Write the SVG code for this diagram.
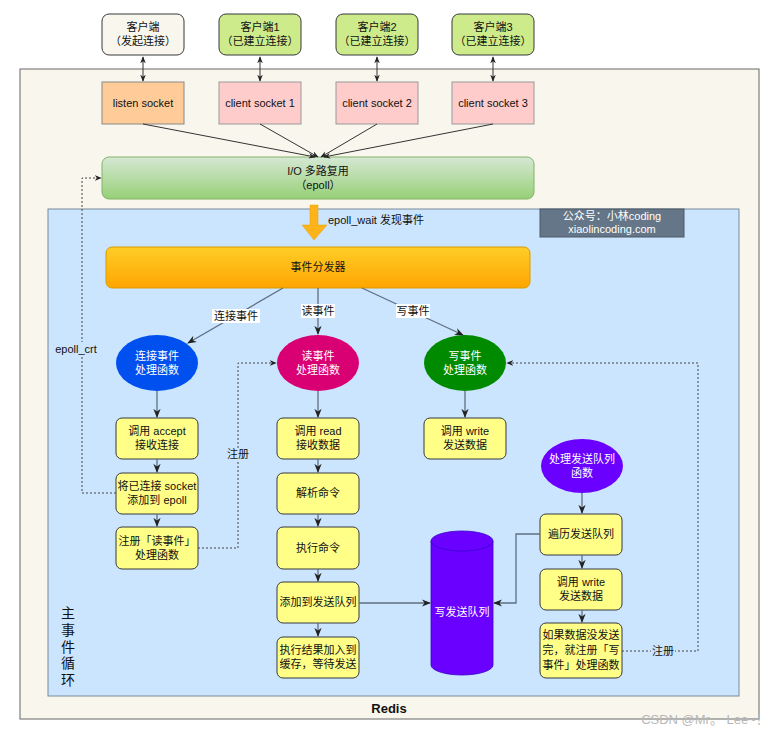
<svg xmlns="http://www.w3.org/2000/svg" width="779" height="732" viewBox="0 0 779 732">
<defs>
<linearGradient id="gGreen" x1="0" y1="0" x2="0" y2="1"><stop offset="0" stop-color="#d5e8d4"/><stop offset="1" stop-color="#97d077"/></linearGradient>
<linearGradient id="gOrange" x1="0" y1="0" x2="0" y2="1"><stop offset="0" stop-color="#ffcd28"/><stop offset="1" stop-color="#ffa500"/></linearGradient>
<marker id="ah" viewBox="0 0 10 10" refX="9" refY="5" markerWidth="7" markerHeight="7" orient="auto-start-reverse"><path d="M0,1 L10,5 L0,9 L3,5 z" fill="#222"/></marker>
</defs>
<style>
text{font-family:"Liberation Sans","Noto Sans CJK SC",sans-serif;font-size:11px;fill:#111;text-anchor:middle}
.w{fill:#fff}
.yb{fill:#ffff88;stroke:#36393d;stroke-width:1}
.ln{fill:none;stroke:#333;stroke-width:1}
.lg{fill:none;stroke:#5f6f80;stroke-width:1.3}
.ds{fill:none;stroke:#444;stroke-width:1;stroke-dasharray:2,2}
.lbl{fill:#fff}
</style>
<rect width="779" height="732" fill="#fff"/>
<g id="redis">
<rect x="20" y="69" width="739" height="650" fill="#f9f7ed" stroke="#666" stroke-width="1"/>
<text x="389" y="713" style="font-weight:bold;font-size:13px">Redis</text>
</g>
<g id="mainloop">
<rect x="48" y="209" width="691" height="487" fill="#cce5ff" stroke="#7a8a99" stroke-width="1"/>
<text x="68" y="618" style="font-size:14px">主</text>
<text x="68" y="635" style="font-size:14px">事</text>
<text x="68" y="652" style="font-size:14px">件</text>
<text x="68" y="668" style="font-size:14px">循</text>
<text x="68" y="685" style="font-size:14px">环</text>
</g>
<g id="watermark-box">
<rect x="540" y="209" width="144" height="28" fill="#647687" stroke="#4a5866"/>
<text class="w" x="612" y="220">公众号：小林coding</text>
<text class="w" x="612" y="233">xiaolincoding.com</text>
</g>
<g id="client0"><rect x="102" y="14" width="82" height="41" rx="7" fill="#f9f7ed" stroke="#36393d"/><text x="143" y="31">客户端</text><text x="143" y="45">（发起连接）</text></g>
<g id="client1"><rect x="219" y="14" width="82" height="41" rx="7" fill="#cdeb8b" stroke="#36393d"/><text x="260" y="31">客户端1</text><text x="260" y="45">（已建立连接）</text></g>
<g id="client2"><rect x="336" y="14" width="82" height="41" rx="7" fill="#cdeb8b" stroke="#36393d"/><text x="377" y="31">客户端2</text><text x="377" y="45">（已建立连接）</text></g>
<g id="client3"><rect x="452" y="14" width="82" height="41" rx="7" fill="#cdeb8b" stroke="#36393d"/><text x="493" y="31">客户端3</text><text x="493" y="45">（已建立连接）</text></g>
<g id="sock0"><rect x="102" y="82" width="82" height="42" fill="#ffcc99" stroke="#888"/><text x="143" y="107">listen socket</text></g>
<g id="sock1"><rect x="219" y="82" width="82" height="42" fill="#ffcccc" stroke="#999"/><text x="260" y="107">client socket 1</text></g>
<g id="sock2"><rect x="336" y="82" width="82" height="42" fill="#ffcccc" stroke="#999"/><text x="377" y="107">client socket 2</text></g>
<g id="sock3"><rect x="452" y="82" width="82" height="42" fill="#ffcccc" stroke="#999"/><text x="493" y="107">client socket 3</text></g>
<g id="io"><rect x="102" y="157" width="432" height="42" rx="7" fill="url(#gGreen)" stroke="#82b366"/><text x="318" y="175">I/O 多路复用</text><text x="318" y="189">（epoll）</text></g>
<g id="epollwait">
<path d="M310,205 H318 V225 H327 L314,240 L302,225 H310 Z" fill="#ffb31a" stroke="#e6a000" stroke-width="0.5"/>
<text x="328" y="224" style="text-anchor:start">epoll_wait 发现事件</text>
</g>
<g id="dispatcher"><rect x="106" y="247" width="424" height="41" rx="6" fill="url(#gOrange)" stroke="#d79b00"/><text x="318" y="271">事件分发器</text></g>
<g id="h-accept"><ellipse cx="157" cy="363" rx="41" ry="28" fill="#0050ef"/><text class="w" x="157" y="360">连接事件</text><text class="w" x="157" y="374">处理函数</text></g>
<g id="h-read"><ellipse cx="318" cy="363" rx="41" ry="28" fill="#d80073"/><text class="w" x="318" y="360">读事件</text><text class="w" x="318" y="374">处理函数</text></g>
<g id="h-write"><ellipse cx="465" cy="363" rx="41" ry="28" fill="#008a00"/><text class="w" x="465" y="360">写事件</text><text class="w" x="465" y="374">处理函数</text></g>
<g id="h-queue"><ellipse cx="582" cy="466" rx="41" ry="27" fill="#6a00ff"/><text class="w" x="582" y="463">处理发送队列</text><text class="w" x="582" y="477">函数</text></g>
<g id="a1"><rect class="yb" x="116" y="418" width="82" height="41" rx="6"/><text x="157" y="435">调用 accept</text><text x="157" y="449">接收连接</text></g>
<g id="a2"><rect class="yb" x="116" y="473" width="82" height="41" rx="6"/><text x="157" y="490">将已连接 socket</text><text x="157" y="504">添加到 epoll</text></g>
<g id="a3"><rect class="yb" x="116" y="527" width="82" height="42" rx="6"/><text x="157" y="545">注册「读事件」</text><text x="157" y="559">处理函数</text></g>
<g id="r1"><rect class="yb" x="277" y="418" width="82" height="41" rx="6"/><text x="318" y="435">调用 read</text><text x="318" y="449">接收数据</text></g>
<g id="r2"><rect class="yb" x="277" y="473" width="82" height="41" rx="6"/><text x="318" y="497">解析命令</text></g>
<g id="r3"><rect class="yb" x="277" y="527" width="82" height="42" rx="6"/><text x="318" y="552">执行命令</text></g>
<g id="r4"><rect class="yb" x="277" y="582" width="82" height="41" rx="6"/><text x="318" y="606">添加到发送队列</text></g>
<g id="r5"><rect class="yb" x="277" y="637" width="82" height="41" rx="6"/><text x="318" y="654">执行结果加入到</text><text x="318" y="668">缓存，等待发送</text></g>
<g id="w1"><rect class="yb" x="424" y="418" width="82" height="41" rx="6"/><text x="465" y="435">调用 write</text><text x="465" y="449">发送数据</text></g>
<g id="q1"><rect class="yb" x="540" y="514" width="82" height="41" rx="6"/><text x="581" y="538">遍历发送队列</text></g>
<g id="q2"><rect class="yb" x="540" y="569" width="82" height="41" rx="6"/><text x="581" y="586">调用 write</text><text x="581" y="600">发送数据</text></g>
<g id="q3"><rect class="yb" x="540" y="623" width="82" height="55" rx="6"/><text x="581" y="639">如果数据没发送</text><text x="581" y="654">完，就注册「写</text><text x="581" y="669">事件」处理函数</text></g>
<g id="queue">
<path d="M431,541 V665 A31,10 0 0 0 493,665 V541 A31,10 0 0 0 431,541 Z" fill="#6a00ff" stroke="#3700cc" stroke-width="0.8"/>
<path d="M431,541 A31,10 0 0 0 493,541" fill="none" stroke="#3700cc" stroke-width="0.8"/>
<text class="w" x="462" y="616">写发送队列</text>
</g>
<g id="connectors">
<line class="ln" x1="143" y1="57" x2="143" y2="81" marker-start="url(#ah)" marker-end="url(#ah)"/>
<line class="ln" x1="260" y1="57" x2="260" y2="81" marker-start="url(#ah)" marker-end="url(#ah)"/>
<line class="ln" x1="377" y1="57" x2="377" y2="81" marker-start="url(#ah)" marker-end="url(#ah)"/>
<line class="ln" x1="493" y1="57" x2="493" y2="81" marker-start="url(#ah)" marker-end="url(#ah)"/>
<line class="ln" x1="143" y1="124" x2="315" y2="157" marker-end="url(#ah)"/>
<line class="ln" x1="260" y1="124" x2="318" y2="157" marker-end="url(#ah)"/>
<line class="ln" x1="377" y1="124" x2="321" y2="157" marker-end="url(#ah)"/>
<line class="ln" x1="493" y1="124" x2="324" y2="157" marker-end="url(#ah)"/>
<line class="lg" x1="283" y1="288" x2="188" y2="343" marker-end="url(#ah)"/>
<line class="lg" x1="318" y1="288" x2="318" y2="334" marker-end="url(#ah)"/>
<line class="lg" x1="362" y1="288" x2="463" y2="335" marker-end="url(#ah)"/>
<rect class="lbl" x="212" y="309" width="48" height="14"/><text x="236" y="320">连接事件</text>
<rect class="lbl" x="301" y="304" width="34" height="14"/><text x="318" y="315">读事件</text>
<rect class="lbl" x="396" y="304" width="34" height="14"/><text x="413" y="315">写事件</text>
<line class="lg" x1="157" y1="391" x2="157" y2="417" marker-end="url(#ah)"/>
<line class="lg" x1="157" y1="459" x2="157" y2="472" marker-end="url(#ah)"/>
<line class="lg" x1="157" y1="514" x2="157" y2="526" marker-end="url(#ah)"/>
<line class="lg" x1="318" y1="391" x2="318" y2="417" marker-end="url(#ah)"/>
<line class="lg" x1="318" y1="459" x2="318" y2="472" marker-end="url(#ah)"/>
<line class="lg" x1="318" y1="514" x2="318" y2="526" marker-end="url(#ah)"/>
<line class="lg" x1="318" y1="569" x2="318" y2="581" marker-end="url(#ah)"/>
<line class="lg" x1="318" y1="623" x2="318" y2="636" marker-end="url(#ah)"/>
<line class="lg" x1="465" y1="391" x2="465" y2="417" marker-end="url(#ah)"/>
<line class="lg" x1="582" y1="493" x2="582" y2="513" marker-end="url(#ah)"/>
<line class="lg" x1="582" y1="555" x2="582" y2="568" marker-end="url(#ah)"/>
<line class="lg" x1="582" y1="610" x2="582" y2="622" marker-end="url(#ah)"/>
<line class="lg" x1="359" y1="603" x2="430" y2="603" marker-end="url(#ah)"/>
<polyline class="lg" points="540,534 516,534 516,603 494,603" marker-end="url(#ah)"/>
<polyline class="ds" points="116,493 82,493 82,178 101,178" marker-end="url(#ah)"/>
<rect x="55" y="342" width="42" height="13" fill="#cce5ff"/>
<text x="76" y="353">epoll_crt</text>
<polyline class="ds" points="198,548 238,548 238,363 276,363" marker-end="url(#ah)"/>
<rect x="227" y="448" width="22" height="13" fill="#cce5ff"/>
<text x="238" y="458">注册</text>
<polyline class="ds" points="622,651 698,651 698,363 507,363" marker-end="url(#ah)"/>
<rect x="651" y="644" width="24" height="13" fill="#cce5ff"/>
<text x="663" y="655">注册</text>
</g>
<text x="705" y="724" style="font-size:13px;fill:#b8b8b8">CSDN @Mr。 Lee~！</text>
</svg>
